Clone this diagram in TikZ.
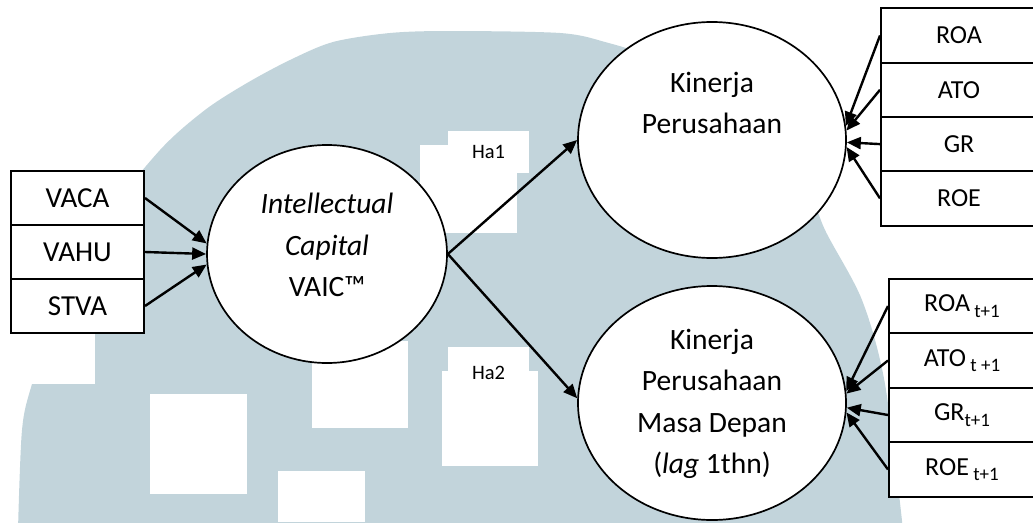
\documentclass[tikz,border=0pt]{standalone}
\usepackage{fontspec}
\setmainfont{Carlito}
\usetikzlibrary{shapes.geometric,arrows.meta,calc}
\definecolor{wm}{RGB}{194,212,219}
\newcommand{\sbx}[1]{\raisebox{-0.45ex}{\fontsize{19}{19}\selectfont #1}}
\tikzset{
  lbox/.style={draw,line width=2pt,fill=white,minimum width=133pt,minimum height=54pt,inner sep=0pt,font=\fontsize{29}{32}\selectfont},
  rbox/.style={draw,line width=2pt,fill=white,minimum height=54.3pt,inner sep=0pt,font=\fontsize{26}{29}\selectfont},
  ell/.style={draw,ellipse,line width=1.7pt,fill=white,inner sep=0pt},
  etext/.style={align=center,inner sep=0pt,font=\fontsize{29.5}{41.5}\selectfont},
  hlab/.style={fill=white,inner sep=0pt,font=\fontsize{20.5}{23}\selectfont},
  conn/.style={line width=2.4pt,-{Triangle[length=14pt,width=12pt]}},
  wsq/.style={fill=white}
}
\begin{document}
\begin{tikzpicture}[x=1pt,y=-1pt]
\useasboundingbox (0,0) rectangle (1033,522);
% watermark
\fill[wm] plot[smooth] coordinates {(18,530) (22,430) (32,384) (60,300) (100,225) (160,150) (205,110) (247,83) (290,60) (333,42) (390,33) (450,31) (560,33) (605,42) (650,58) (740,110) (800,170) (825,230) (862,300) (885,384) (903,530)} -- cycle;
\fill[wsq] (420,145) rectangle (517,233);
\fill[wsq] (150,394) rectangle (247,494);
\fill[wsq] (312,341) rectangle (408,428);
\fill[wsq] (278,471) rectangle (365,522);
\fill[wsq] (442,371) rectangle (538,466);
\fill[wsq] (0,334) rectangle (95,384);
% hypothesis labels
\node[hlab,minimum width=81pt,minimum height=42pt] (ha1) at (488.5,152) {Ha1};
\node[hlab,minimum width=81pt,minimum height=52pt] (ha2) at (488.5,373) {Ha2};
% ellipses
\node[ell,minimum width=240pt,minimum height=218pt] (ic) at (327,254) {};
\node[ell,minimum width=268pt,minimum height=236pt] (kp) at (712,140) {};
\node[ell,minimum width=268pt,minimum height=234pt] (kpm) at (712,403) {};
\node[etext] (ict) at (327,245) {\textit{Intellectual}\\\textit{Capital}\\VAIC™};
\node[etext] (kpt) at (712,103) {Kinerja\\Perusahaan};
\node[etext] (kpmt) at (712,404) {Kinerja\\Perusahaan\\Masa Depan\\(\textit{lag} 1thn)};
% left boxes
\node[lbox] (vaca) at (77.5,198) {VACA};
\node[lbox] (vahu) at (77.5,252) {VAHU};
\node[lbox] (stva) at (77.5,306) {STVA};
% top right boxes
\node[rbox,minimum width=156pt] (roa) at (959,35.5) {ROA};
\node[rbox,minimum width=156pt] (ato) at (959,89.8) {ATO};
\node[rbox,minimum width=156pt] (gr) at (959,144.1) {GR};
\node[rbox,minimum width=156pt] (roe) at (959,198.4) {ROE};
% bottom right boxes
\node[rbox,minimum width=146pt] (roa1) at (962,306) {ROA\,\sbx{t+1}};
\node[rbox,minimum width=146pt] (ato1) at (962,360.5) {ATO\,\sbx{t +1}};
\node[rbox,minimum width=146pt] (gr1) at (962,415) {GR\sbx{t+1}};
\node[rbox,minimum width=146pt] (roe1) at (962,469.5) {ROE\,\sbx{t+1}};
% connectors
\draw[conn] (vaca.east) -- (ic.175);
\draw[conn] (vahu.east) -- (ic.180);
\draw[conn] (stva.east) -- (ic.185);
\draw[conn] (ic.east) -- (kp.west);
\draw[conn] (ic.east) -- (kpm.178);
\draw[conn] (roa.west) -- (kp.6);
\draw[conn] (ato.west) -- (kp.4);
\draw[conn] (gr.west) -- (kp.-1);
\draw[conn] (roe.west) -- (kp.-3);
\draw[conn] (roa1.west) -- (kpm.5);
\draw[conn] (ato1.west) -- (kpm.4);
\draw[conn] (gr1.west) -- (kpm.-2);
\draw[conn] (roe1.west) -- (kpm.-4);
\end{tikzpicture}
\end{document}
